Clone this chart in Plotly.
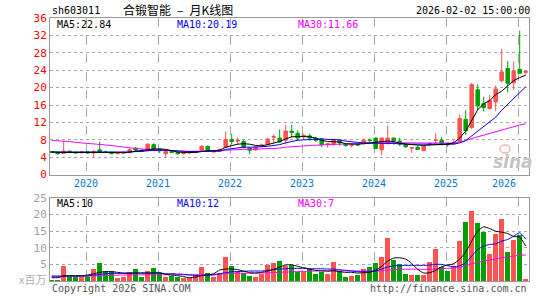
import plotly.graph_objects as go

# ---------------- data (monthly, Jul 2019 .. Feb 2026) ----------------
months = [
    "2019-07", "2019-08", "2019-09", "2019-10", "2019-11", "2019-12",
    "2020-01", "2020-02", "2020-03", "2020-04", "2020-05", "2020-06",
    "2020-07", "2020-08", "2020-09", "2020-10", "2020-11", "2020-12",
    "2021-01", "2021-02", "2021-03", "2021-04", "2021-05", "2021-06",
    "2021-07", "2021-08", "2021-09", "2021-10", "2021-11", "2021-12",
    "2022-01", "2022-02", "2022-03", "2022-04", "2022-05", "2022-06",
    "2022-07", "2022-08", "2022-09", "2022-10", "2022-11", "2022-12",
    "2023-01", "2023-02", "2023-03", "2023-04", "2023-05", "2023-06",
    "2023-07", "2023-08", "2023-09", "2023-10", "2023-11", "2023-12",
    "2024-01", "2024-02", "2024-03", "2024-04", "2024-05", "2024-06",
    "2024-07", "2024-08", "2024-09", "2024-10", "2024-11", "2024-12",
    "2025-01", "2025-02", "2025-03", "2025-04", "2025-05", "2025-06",
    "2025-07", "2025-08", "2025-09", "2025-10", "2025-11", "2025-12",
    "2026-01", "2026-02",
]
year_labels = ["2020", "2021", "2022", "2023", "2024", "2025", "2026"]

open_ = [5.3, 5.1, 4.9, 5.4, 5.1, 5.0, 5.2, 5.0, 5.7, 5.2, 5.1, 4.8,
         5.0, 5.1, 6.1, 5.6, 5.5, 6.9, 5.9, 4.8, 5.3, 5.1, 4.8, 5.0,
         5.1, 5.6, 6.5, 5.2, 5.4, 6.3, 8.1, 7.7, 7.6, 6.1, 5.7, 6.6,
         6.9, 8.6, 8.4, 7.9, 10.0, 9.5, 8.8, 8.9, 8.4, 8.2, 6.9, 7.1,
         7.9, 7.0, 6.7, 7.0, 7.2, 7.9, 8.4, 5.7, 7.1, 8.4, 7.7, 6.9,
         6.1, 6.3, 5.5, 7.0, 7.9, 7.9, 7.2, 7.1, 7.6, 12.7, 10.8, 19.5,
         16.3, 15.2, 16.7, 21.6, 24.4, 21.1, 24.2, 23.5]
high = [5.4, 5.2, 7.8, 5.5, 5.3, 5.4, 5.4, 5.7, 7.6, 5.5, 5.2, 5.2,
        5.3, 6.0, 6.3, 5.8, 7.2, 7.2, 6.0, 5.6, 5.5, 5.2, 5.2, 5.3,
        5.4, 6.8, 6.7, 5.6, 6.0, 9.9, 9.4, 8.6, 8.0, 6.3, 6.4, 7.1,
        8.4, 9.3, 10.4, 11.4, 11.4, 10.2, 9.4, 9.4, 8.7, 8.4, 7.2, 8.3,
        8.0, 7.2, 7.0, 7.1, 8.3, 8.3, 8.5, 8.5, 11.3, 8.5, 8.5, 7.0,
        6.2, 6.7, 6.6, 7.5, 9.5, 8.7, 7.3, 7.9, 13.8, 14.8, 21.1, 20.8,
        17.9, 18.3, 20.5, 28.9, 26.1, 26.0, 33.1, 24.0]
low = [5.0, 4.6, 4.8, 5.0, 4.8, 4.9, 4.9, 4.0, 5.0, 5.0, 4.7, 4.7,
       4.9, 5.0, 5.4, 5.3, 5.4, 5.7, 5.0, 4.0, 5.0, 4.6, 4.7, 4.8,
       4.9, 5.5, 5.4, 5.1, 5.3, 6.2, 6.9, 6.9, 6.0, 4.7, 5.5, 6.4,
       6.7, 7.2, 7.4, 6.9, 8.5, 7.8, 8.0, 7.8, 7.5, 6.3, 6.2, 6.6,
       6.6, 6.4, 6.3, 6.7, 6.9, 7.4, 6.0, 4.4, 7.0, 6.9, 6.6, 6.1,
       5.0, 5.7, 5.4, 6.5, 7.0, 6.7, 6.4, 6.9, 7.5, 9.1, 10.5, 14.8,
       14.5, 15.0, 14.6, 21.2, 18.9, 19.5, 23.1, 23.0]
close = [5.1, 4.8, 5.4, 5.1, 5.0, 5.2, 5.0, 5.3, 5.2, 5.1, 4.8, 5.0,
         5.1, 5.7, 5.6, 5.5, 7.0, 5.9, 5.5, 5.3, 5.1, 4.8, 5.0, 5.1,
         5.2, 6.5, 5.6, 5.4, 5.8, 8.1, 7.6, 7.8, 6.3, 5.6, 6.3, 6.8,
         8.2, 8.7, 7.5, 10.0, 9.7, 8.4, 9.0, 8.4, 7.9, 6.9, 7.1, 8.0,
         7.3, 6.7, 6.9, 6.8, 7.9, 7.85, 6.0, 8.4, 8.4, 7.8, 7.0, 6.4,
         6.15, 5.8, 6.5, 7.1, 8.0, 7.2, 6.9, 7.2, 12.9, 10.1, 20.7, 15.8,
         15.4, 17.1, 19.7, 23.6, 21.0, 23.8, 23.3, 23.7]
volume = [0.45, 0.2, 4.6, 1.1, 1.1, 1.1, 1.2, 3.7, 5.4, 3.0, 3.0, 1.0,
          1.2, 2.8, 3.7, 1.1, 3.0, 4.0, 2.3, 1.2, 1.5, 1.1, 1.0, 1.0,
          1.8, 4.2, 2.5, 1.3, 2.5, 7.1, 4.5, 3.0, 2.3, 1.4, 1.3, 2.0,
          4.9, 5.4, 6.0, 4.5, 4.7, 2.6, 2.8, 3.5, 2.0, 2.8, 2.0, 5.6,
          3.0, 1.2, 1.5, 1.7, 3.6, 4.2, 5.4, 7.1, 13.0, 6.2, 5.1, 2.2,
          1.9, 1.9, 1.7, 5.6, 9.5, 4.3, 3.1, 4.5, 12.1, 17.7, 21.1, 17.4,
          14.8, 8.2, 14.2, 18.6, 8.8, 12.5, 14.0, 0.5]

ma5 = [5.2, 5.1, 5.1, 5.1, 5.1, 5.1, 5.1, 5.1, 5.2, 5.2, 5.1, 5.1,
       5.0, 5.2, 5.4, 5.5, 5.8, 5.9, 5.9, 5.8, 5.5, 5.2, 5.1, 5.1,
       5.1, 5.3, 5.5, 5.5, 5.6, 6.3, 6.6, 7.0, 7.1, 7.0, 6.7, 6.6,
       6.9, 7.3, 7.6, 8.2, 8.7, 8.75, 8.75, 8.7, 8.4, 7.9, 7.6, 7.6,
       7.5, 7.1, 7.0, 7.0, 7.1, 7.3, 7.5, 7.6, 7.7, 7.6, 7.2, 7.0,
       6.9, 6.8, 6.7, 6.8, 6.9, 7.0, 7.0, 7.3, 8.4, 10.0, 12.6, 14.9,
       16.3, 17.0, 18.4, 19.2, 20.4, 21.6, 22.3, 22.84]
ma10 = [5.2, 5.2, 5.2, 5.2, 5.2, 5.15, 5.15, 5.15, 5.15, 5.2, 5.2, 5.2,
        5.1, 5.2, 5.3, 5.3, 5.5, 5.6, 5.6, 5.6, 5.5, 5.5, 5.4, 5.3,
        5.3, 5.3, 5.3, 5.3, 5.4, 5.8, 6.0, 6.2, 6.3, 6.3, 6.3, 6.4,
        6.5, 6.7, 6.9, 7.3, 7.6, 7.9, 8.0, 8.1, 8.2, 8.2, 8.1, 8.0,
        8.0, 7.7, 7.5, 7.4, 7.3, 7.2, 7.2, 7.2, 7.2, 7.1, 7.1, 7.0,
        7.0, 7.0, 7.0, 6.9, 6.9, 6.9, 6.9, 7.0, 7.3, 7.8, 8.9, 10.0,
        11.0, 12.0, 13.2, 14.8, 16.2, 17.6, 18.9, 20.19]
ma30 = [7.85, 7.8, 7.7, 7.6, 7.4, 7.3, 7.2, 7.1, 7.0, 6.8, 6.7, 6.5,
        6.3, 6.1, 6.0, 5.9, 5.8, 5.7, 5.6, 5.5, 5.45, 5.4, 5.35, 5.35,
        5.35, 5.4, 5.4, 5.4, 5.45, 5.6, 5.7, 5.75, 5.8, 5.8, 5.85, 5.9,
        6.0, 6.0, 6.1, 6.3, 6.35, 6.4, 6.6, 6.7, 6.8, 6.85, 6.9, 6.95,
        7.0, 7.0, 7.05, 7.1, 7.2, 7.25, 7.3, 7.35, 7.4, 7.35, 7.3, 7.3,
        7.3, 7.25, 7.25, 7.25, 7.25, 7.25, 7.25, 7.25, 7.5, 7.8, 8.3, 8.7,
        9.1, 9.4, 9.8, 10.3, 10.6, 11.0, 11.4, 11.66]

vma5 = [1.0, 1.0, 1.5, 1.6, 1.6, 1.6, 1.8, 2.2, 2.6, 2.8, 2.8, 2.6,
        2.4, 2.4, 2.4, 2.4, 2.4, 2.4, 2.5, 2.0, 1.8, 1.6, 1.3, 1.0,
        1.2, 1.6, 1.8, 2.2, 3.3, 3.6, 3.6, 3.4, 3.0, 2.5, 2.4, 2.6,
        3.0, 3.5, 4.2, 4.8, 4.9, 4.4, 4.0, 3.6, 3.2, 3.1, 3.0, 3.1,
        2.8, 2.6, 2.6, 2.4, 2.5, 2.6, 3.3, 4.4, 6.0, 6.9, 7.0, 6.6,
        5.3, 3.5, 2.4, 2.5, 3.2, 4.3, 4.8, 5.2, 6.6, 8.7, 12.0, 15.0,
        16.3, 15.8, 15.0, 14.7, 14.3, 13.4, 13.2, 10.5]
vma10 = [1.5, 1.5, 1.5, 1.5, 1.5, 1.5, 1.5, 1.8, 2.0, 2.2, 2.3, 2.3,
         2.3, 2.3, 2.4, 2.4, 2.4, 2.4, 2.4, 2.2, 2.2, 2.1, 2.0, 1.8,
         1.7, 1.7, 1.8, 1.8, 2.2, 2.5, 2.8, 2.8, 2.9, 3.0, 3.0, 3.0,
         3.2, 3.4, 3.6, 3.7, 3.8, 3.8, 3.8, 3.7, 3.7, 3.7, 3.6, 3.6,
         3.4, 3.2, 3.0, 2.8, 2.8, 2.8, 3.0, 3.6, 4.2, 4.6, 4.6, 4.7,
         4.7, 4.7, 4.7, 4.8, 5.0, 5.0, 4.6, 4.3, 4.6, 5.5, 7.5, 9.5,
         10.5, 11.0, 11.2, 12.0, 12.5, 13.5, 14.5, 12.6]
vma30 = [1.3, 1.3, 1.35, 1.4, 1.4, 1.45, 1.5, 1.55, 1.6, 1.65, 1.7, 1.75,
         1.8, 1.8, 1.85, 1.85, 1.9, 1.9, 1.9, 1.9, 1.9, 1.9, 1.9, 1.9,
         1.9, 1.95, 2.0, 2.0, 2.05, 2.2, 2.3, 2.3, 2.35, 2.35, 2.4, 2.4,
         2.5, 2.55, 2.6, 2.7, 2.8, 2.85, 2.9, 2.95, 3.0, 3.0, 3.0, 3.05,
         3.05, 3.05, 3.05, 3.05, 3.0, 3.0, 3.0, 3.1, 3.3, 3.4, 3.5, 3.55,
         3.55, 3.55, 3.5, 3.5, 3.6, 3.7, 3.8, 3.9, 4.2, 4.6, 5.2, 5.6,
         6.0, 6.3, 6.6, 7.0, 7.3, 7.5, 7.8, 7.8]

price_ticks = [0, 4, 8, 12, 16, 20, 24, 28, 32, 36]
vol_ticks = [5, 10, 15, 20, 25]

# ---------------- styling / geometry ----------------
W, H = 545, 300
L, R, T, B = 50, 16, 18, 15
PW, PH = W - L - R, H - T - B

def px(x):
    return (x - L) / PW

def py(y):
    return 1 - (y - T) / PH

RED = "#ff5252"
GREEN = "#00a000"
MONO = "DejaVu Sans Mono"
CJK = "Noto Sans CJK SC"
GRID = "#a8a8a8"
FRAME = "#9a9a9a"
FS = 10

xs = list(range(len(months)))
jan_pos = [i - 0.25 for i, m in enumerate(months) if m.endswith("-01")]
bar_colors = [RED if c >= o else GREEN for o, c in zip(open_, close)]

fig = go.Figure()

fig.add_trace(go.Candlestick(
    x=xs, open=open_, high=high, low=low, close=close,
    increasing=dict(line=dict(color=RED, width=1), fillcolor=RED),
    decreasing=dict(line=dict(color=GREEN, width=1), fillcolor=GREEN),
    whiskerwidth=0, showlegend=False, hoverinfo="skip",
    xaxis="x", yaxis="y",
))
for arr, col in [(ma30, "#ff00ff"), (ma10, "#0000ff"), (ma5, "#000000")]:
    fig.add_trace(go.Scatter(x=xs, y=arr, mode="lines",
                             line=dict(color=col, width=1),
                             showlegend=False, hoverinfo="skip",
                             xaxis="x", yaxis="y"))

fig.add_trace(go.Bar(x=xs, y=volume, marker=dict(color=bar_colors, line=dict(width=0)),
                     width=0.84, showlegend=False, hoverinfo="skip",
                     xaxis="x2", yaxis="y2"))
for arr, col in [(vma30, "#ff00ff"), (vma10, "#0000ff"), (vma5, "#000000")]:
    fig.add_trace(go.Scatter(x=xs, y=arr, mode="lines",
                             line=dict(color=col, width=1, shape="spline", smoothing=0.6),
                             showlegend=False, hoverinfo="skip",
                             xaxis="x2", yaxis="y2"))

xrange = [-0.28, 79.55]
common_x = dict(range=xrange, showticklabels=False, ticks="",
                tickvals=jan_pos, showgrid=True, gridcolor=GRID,
                griddash="dash", gridwidth=1, zeroline=False,
                showline=True, mirror=True, linecolor=FRAME, linewidth=1,
                fixedrange=True)

fig.update_layout(
    width=W, height=H,
    margin=dict(l=L, r=R, t=T, b=B, pad=0),
    paper_bgcolor="white", plot_bgcolor="white",
    boxgap=0.16,
    bargap=0,
    showlegend=False,
    xaxis=dict(**common_x, anchor="y", rangeslider=dict(visible=False)),
    xaxis2=dict(**common_x, anchor="y2", matches="x"),
    yaxis=dict(domain=[py(177), 1], range=[0, 36], tickvals=price_ticks,
               tickfont=dict(family=MONO, size=11, color="#ff0000"),
               showgrid=True, gridcolor=GRID, griddash="dot", gridwidth=1,
               zeroline=False, showline=True, mirror=True,
               linecolor=FRAME, linewidth=1, ticks="", fixedrange=True),
    yaxis2=dict(domain=[0, py(200.7)], range=[0, 25], tickvals=vol_ticks,
                tickfont=dict(family=MONO, size=11, color="#a0a0a0"),
                showgrid=True, gridcolor=GRID, griddash="dot", gridwidth=1,
                zeroline=False, showline=True, mirror=True,
                linecolor=FRAME, linewidth=1, ticks="", fixedrange=True),
)

ann = []

def text(x, y, s, color="#000000", size=FS, family=MONO, xanchor="left", **kw):
    ann.append(dict(x=px(x), y=py(y), xref="paper", yref="paper", text=s,
                    showarrow=False, xanchor=xanchor, yanchor="middle",
                    font=dict(family=family, size=size, color=color), **kw))

ES = "\u2002"
# header
text(50, 10, "sh603011")
text(121, 9.5, "合锻智能" + ES + "–" + ES + "月K线图", size=12, family=CJK)
text(532, 10, "2026-02-02 15:00:00", xanchor="right")

# legend texts
text(55, 25, "MA5:%.2f" % ma5[-1], "#000000")
text(175, 25, "MA10:%.2f" % ma10[-1], "#0000ff")
text(296, 25, "MA30:%.2f" % ma30[-1], "#ff00ff")
text(55, 206, "MA5:%d" % int(vma5[-1]), "#000000")
text(175, 206, "MA10:%d" % int(vma10[-1]), "#0000ff")
text(296, 206, "MA30:%d" % int(vma30[-1]), "#ff00ff")

# year labels under the price panel
for pos, lab in zip(jan_pos, year_labels):
    xpix = L + (pos - xrange[0]) / (xrange[1] - xrange[0]) * PW
    anchor = "right" if xpix + 13 > L + PW else "center"
    ann.append(dict(x=pos, y=py(186.5), xref="x", yref="paper", text=lab,
                    showarrow=False, xanchor=anchor, yanchor="middle",
                    font=dict(family=MONO, size=FS, color="#0a78c8")))

# volume unit
text(48, 283, "x百万", "#b0b0b0", size=11, family=CJK, xanchor="right")

# footer
text(50, 292.5, "Copyright 2026 SINA.COM", "#555555")
text(529, 292.5, "http://finance.sina.com.cn", "#555555", xanchor="right")

# watermark (logo eye as a shape, word as text)
text(513, 164, "<b><i>sina</i></b>", "#c4c4c4", size=17, family="DejaVu Sans", xanchor="center")
shapes = [dict(type="circle", xref="paper", yref="paper",
               x0=px(500), x1=px(510), y0=py(155), y1=py(147),
               line=dict(color="#f0b8b8", width=1.5), fillcolor="rgba(0,0,0,0)")]

fig.update_layout(annotations=ann, shapes=shapes)

fig.write_html("out.html")
